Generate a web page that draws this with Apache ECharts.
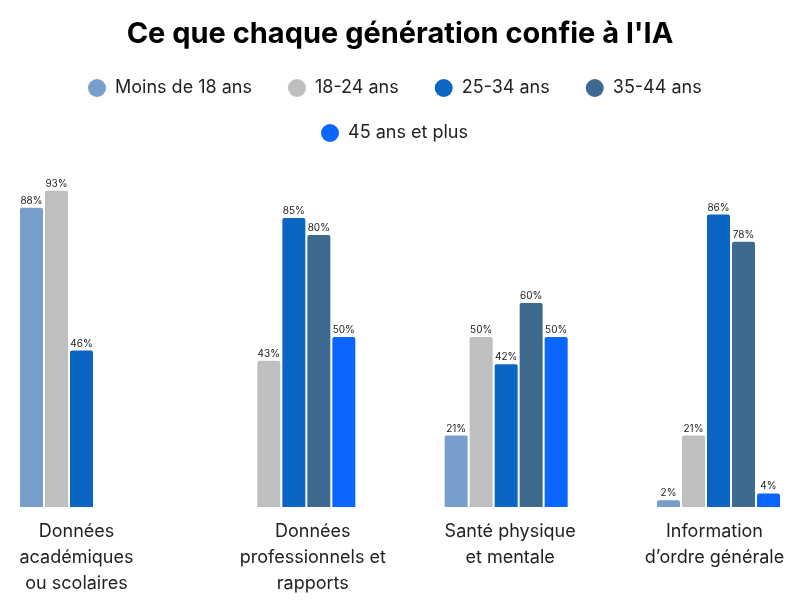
<!DOCTYPE html>
<html>
<head>
<meta charset="utf-8">
<script src="https://cdn.jsdelivr.net/npm/echarts@6/dist/echarts.min.js"></script>
<style>
  html, body { margin: 0; padding: 0; background: #fff; }
  #chart { width: 800px; height: 600px; }
</style>
</head>
<body>
<div id="chart"></div>
<script>
// catégories et valeurs (%), null = pas de donnée
var categories = [
  "Données\nacadémiques\nou scolaires",
  "Données\nprofessionnels et\nrapports",
  "Santé physique\net mentale",
  "Information\nd’ordre générale"
];
var groups = ["Moins de 18 ans", "18-24 ans", "25-34 ans", "35-44 ans", "45 ans et plus"];
var moins18 = [88, null, 21, 2];
var ans18_24 = [93, 43, 50, 21];
var ans25_34 = [46, 85, 42, 86];
var ans35_44 = [null, 80, 60, 78];
var ans45plus = [null, 50, 50, 4];
var colors = ["#789fcb", "#bebfc1", "#0b65c2", "#3e6a8f", "#0a66ff"];

var chart = echarts.init(document.getElementById("chart"));
var values = [moins18, ans18_24, ans25_34, ans35_44, ans45plus];

var series = [];
groups.forEach(function (name, i) {
  series.push({
    name: name,
    type: "bar",
    barWidth: 23,
    barGap: "8.7%",
    clip: false,
    itemStyle: { color: colors[i], borderRadius: [2, 2, 0, 0] },
    label: {
      show: true,
      position: "top",
      distance: 2,
      fontSize: 10,
      fontFamily: "Inter",
      color: "#222",
      formatter: "{c}%"
    },
    data: values[i]
  });
});

// décalage horizontal des libellés de l'axe (comme dans l'original)
var shift = [-5, 19, 4, -4];
var xData = categories.map(function (c, i) {
  var s = shift[i];
  return {
    value: c,
    textStyle: { padding: s > 0 ? [0, 0, 0, 2 * s] : [0, -2 * s, 0, 0] }
  };
});

var legendText = {
  fontFamily: "Inter",
  fontSize: 18,
  color: "#222",
  padding: [0, 0, 0, 4]
};

var option = {
  color: colors,
  animation: false,
  title: {
    text: "Ce que chaque génération confie à l'IA",
    left: "center",
    top: 15,
    textStyle: { fontFamily: "Inter", fontSize: 29, fontWeight: "bold", color: "#000" }
  },
  legend: [
    {
      data: groups.slice(0, 4),
      top: 74,
      left: 83,
      icon: "circle",
      itemWidth: 18,
      itemHeight: 18,
      itemGap: 36,
      textStyle: legendText
    },
    {
      data: groups.slice(4),
      top: 119,
      left: 316,
      icon: "circle",
      itemWidth: 18,
      itemHeight: 18,
      textStyle: legendText
    }
  ],
  grid: { left: 81.5, right: 81.5, top: 167, bottom: 93 },
  xAxis: {
    type: "category",
    boundaryGap: false,
    data: xData,
    axisLine: { show: false },
    axisTick: { show: false },
    splitLine: { show: false },
    axisLabel: {
      interval: 0,
      margin: 12,
      fontFamily: "Inter",
      fontSize: 18,
      lineHeight: 26,
      color: "#222",
      align: "center"
    }
  },
  yAxis: {
    type: "value",
    min: 0,
    max: 100,
    show: false,
    splitLine: { show: false }
  },
  series: series
};

chart.setOption(option);
window.addEventListener("resize", function () {
  chart.resize();
});
</script>
</body>
</html>
